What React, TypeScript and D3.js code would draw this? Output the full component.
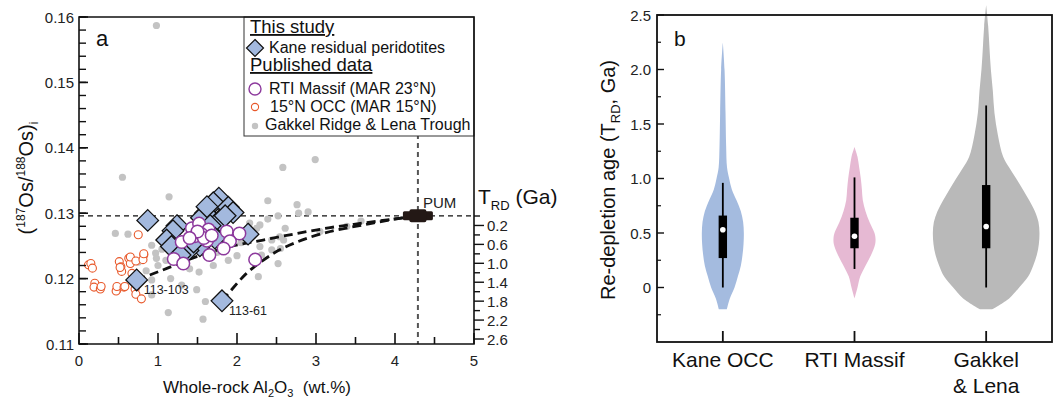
import React from 'react';
import * as d3 from 'd3';

// ---------- Panel a data ----------
const gakkelPts: [number, number][] = [
  [0.98, 0.1587], [0.55, 0.1355], [1.14, 0.1325], [2.58, 0.137], [2.99, 0.1382], [2.39, 0.1319],
  [0.46, 0.1269], [0.62, 0.1268], [2.76, 0.1313], [2.9, 0.1302], [2.39, 0.1291], [2.52, 0.1296],
  [2.25, 0.1277], [2.29, 0.1282], [2.16, 0.1285], [2.44, 0.1259], [2.29, 0.1249], [2.55, 0.1246],
  [2.61, 0.1277], [3.05, 0.1272], [2.54, 0.1264], [2.59, 0.1259], [2.44, 0.1244], [2.31, 0.1236],
  [2.52, 0.1223], [2.27, 0.1203], [3.39, 0.128], [3.57, 0.1288], [1.13, 0.1148], [1.57, 0.1138],
  [1.6, 0.1165], [1.49, 0.1183], [1.89, 0.1228], [1.52, 0.121], [0.92, 0.1198], [0.92, 0.1175],
  [0.92, 0.1251], [0.97, 0.1239], [0.98, 0.1231], [0.75, 0.1225], [1.16, 0.12], [1.05, 0.1245],
  [1.1, 0.1228], [1.4, 0.1215], [1.75, 0.124], [1.95, 0.1265], [2.05, 0.1255], [1.2, 0.1262],
  [0.85, 0.1212], [1.0, 0.122], [2.0, 0.1235], [2.78, 0.1300], [1.3, 0.119], [1.7, 0.122],
];
const occ15Pts: [number, number][] = [
  [0.12, 0.1221], [0.15, 0.1223], [0.17, 0.1216], [0.2, 0.1193], [0.19, 0.1187], [0.27, 0.1184],
  [0.28, 0.1188], [0.48, 0.1183], [0.47, 0.1181], [0.48, 0.1188], [0.57, 0.1187], [0.58, 0.1188],
  [0.51, 0.1226], [0.53, 0.1218], [0.54, 0.1211], [0.52, 0.1217], [0.63, 0.1231], [0.65, 0.1223],
  [0.65, 0.1233], [0.72, 0.1227], [0.82, 0.1236], [0.81, 0.1229], [0.82, 0.1238], [0.75, 0.1267],
  [0.67, 0.1208], [0.71, 0.1184], [0.72, 0.1176], [0.79, 0.1169],
];
const rtiPts: [number, number][] = [
  [1.43, 0.1277], [1.52, 0.1284], [1.64, 0.1275], [1.47, 0.1265], [1.62, 0.1258], [1.3, 0.1256],
  [1.87, 0.1272], [2.03, 0.1269], [1.91, 0.1257], [1.83, 0.1246], [1.65, 0.1236], [1.2, 0.123],
  [1.32, 0.1223], [2.23, 0.1229], [1.55, 0.1268], [1.58, 0.1262], [1.5, 0.1272], [1.68, 0.1266],
  [1.4, 0.1262],
];
const kanePts: [number, number][] = [
  [0.87, 0.1289], [0.73, 0.1198], [1.81, 0.1166], [1.77, 0.1323], [1.7, 0.1316], [1.89, 0.1309],
  [1.95, 0.1301], [1.6, 0.13], [1.55, 0.1293], [1.78, 0.1289], [1.66, 0.1281], [1.24, 0.1281],
  [1.19, 0.1273], [1.11, 0.1259], [1.17, 0.1249], [2.14, 0.1268], [1.53, 0.125], [1.38, 0.1243],
  [1.45, 0.1256], [1.72, 0.1262], [1.28, 0.1236], [1.62, 0.131], [1.85, 0.1296],
];
const meltCurveUpper: [number, number][] = [
  [0.73, 0.1198], [0.82, 0.1202], [1.12, 0.1216], [1.5, 0.1234], [1.91, 0.1249], [2.33, 0.1259],
  [2.76, 0.1269], [3.18, 0.1278], [3.6, 0.1285], [4.1, 0.1293], [4.29, 0.1296],
];
const meltCurveLower: [number, number][] = [
  [1.81, 0.1166], [1.91, 0.118], [2.12, 0.1208], [2.33, 0.1228], [2.54, 0.1244], [2.76, 0.1256],
  [3.18, 0.1272], [3.6, 0.1282], [4.1, 0.1293], [4.29, 0.1296],
];
const sampleLabels: { text: string; x: number; y: number }[] = [
  { text: '113-103', x: 0.73, y: 0.1198 },
  { text: '113-61', x: 1.81, y: 0.1166 },
];
const pumAl = 4.29;
const pumOs = 0.1296;
const xTicksA = [0, 1, 2, 3, 4, 5];
const yTicksA = [0.11, 0.12, 0.13, 0.14, 0.15, 0.16];
const trdTicks = d3.range(0, 2.61, 0.2).map((v) => +v.toFixed(1));
const trdLabels = [0.2, 0.6, 1.0, 1.4, 1.8, 2.2, 2.6];

// ---------- Panel b data ----------
const violinCats = ['Kane OCC', 'RTI Massif', 'Gakkel & Lena'];
const violinColors = ['#a4bbdf', '#e6b9d3', '#b9b9b9'];
// [age (Ga), relative density]
const kaneDensity: [number, number][] = [
  [-0.2, 4], [-0.1, 7], [0, 11.7], [0.1, 15], [0.2, 18], [0.3, 19.7], [0.4, 20.7], [0.5, 21],
  [0.6, 20.3], [0.7, 18], [0.8, 13.7], [0.9, 9], [1.0, 6.3], [1.1, 4.2], [1.3, 3.3], [1.6, 2.7],
  [2.0, 1.7], [2.25, 0],
];
const rtiDensity: [number, number][] = [
  [-0.1, 0], [0, 3], [0.1, 5.7], [0.2, 11], [0.3, 16.7], [0.4, 20.7], [0.45, 21], [0.5, 20],
  [0.6, 15], [0.7, 11], [0.8, 8.3], [0.9, 7.4], [1.0, 6.3], [1.1, 4.7], [1.2, 3], [1.29, 0],
];
const gakkelDensity: [number, number][] = [
  [-0.2, 6], [-0.1, 23], [0, 33], [0.1, 42], [0.2, 47], [0.3, 50.7], [0.4, 52.7], [0.5, 53.3],
  [0.6, 52.3], [0.7, 48.7], [0.8, 43], [0.9, 36.7], [1.0, 30], [1.1, 23], [1.2, 17], [1.4, 11.7],
  [1.6, 8.3], [1.8, 6.7], [2.0, 4.7], [2.2, 3.3], [2.4, 2], [2.59, 0],
];
const violinDensities = [kaneDensity, rtiDensity, gakkelDensity];
const q1s = [0.27, 0.36, 0.36];
const q3s = [0.66, 0.64, 0.94];
const whiskerLo = [0, 0.17, 0];
const whiskerHi = [0.96, 1.01, 1.67];
const medians = [0.53, 0.47, 0.56];
const yTicksB = [0, 0.5, 1.0, 1.5, 2.0, 2.5];
const yMinorB = [-0.25, 0.25, 0.75, 1.25, 1.75, 2.25];

const FONT = '"Liberation Sans", Arial, Helvetica, sans-serif';

export default function App() {
  // Panel a scales
  const x = d3.scaleLinear().domain([0, 5]).range([79, 474]);
  const y = d3.scaleLinear().domain([0.11, 0.16]).range([344, 17]);
  const trd = d3.scaleLinear().domain([0, 2.6]).range([216, 339]);
  const line = d3
    .line<[number, number]>()
    .x((d) => x(d[0]))
    .y((d) => y(d[1]))
    .curve(d3.curveMonotoneX);
  const yMinorA = d3.range(0.11, 0.1601, 0.002).map((v) => +v.toFixed(3));
  const xMinorA = [0.5, 1.5, 2.5, 3.5, 4.5];

  // Panel b scales
  const xb = d3.scalePoint<string>().domain(violinCats).range([657, 1052]).padding(0.5);
  const yb = d3.scaleLinear().domain([-0.5, 2.5]).range([342, 15]);
  const wScale = d3.scaleLinear().domain([0, 55]).range([0, 55]);

  const diamond = (cx: number, cy: number, r: number) =>
    `M${cx},${cy - r}L${cx + r},${cy}L${cx},${cy + r}L${cx - r},${cy}Z`;

  const px = x(pumAl);
  const py = y(pumOs);

  return (
    <svg
      width={1055}
      height={407}
      style={{ position: 'absolute', left: 0, top: 0, background: '#fff' }}
      fontFamily={FONT}
    >
      {/* ================= Panel a ================= */}
      <line x1={x(0)} x2={x(5)} y1={py} y2={py} stroke="#111" strokeWidth={1.2} strokeDasharray="5,4" />
      <line x1={px} x2={px} y1={y(0.16)} y2={y(0.11)} stroke="#555" strokeWidth={2} strokeDasharray="5,4" />

      {gakkelPts.map((d, i) => (
        <circle key={'g' + i} cx={x(d[0])} cy={y(d[1])} r={3.6} fill="#c3c3c3" />
      ))}
      {occ15Pts.map((d, i) => (
        <circle key={'o' + i} cx={x(d[0])} cy={y(d[1])} r={4} fill="#fff" stroke="#e8582a" strokeWidth={1.1} />
      ))}
      <path d={line(meltCurveUpper) || ''} fill="none" stroke="#111" strokeWidth={2.8} strokeDasharray="9,5" />
      <path d={line(meltCurveLower) || ''} fill="none" stroke="#111" strokeWidth={2.8} strokeDasharray="9,5" />
      {kanePts.map((d, i) => (
        <path key={'k' + i} d={diamond(x(d[0]), y(d[1]), 10.8)} fill="#a3b9de" stroke="#111" strokeWidth={1.3} />
      ))}
      {rtiPts.map((d, i) => (
        <circle key={'r' + i} cx={x(d[0])} cy={y(d[1])} r={6.3} fill="#fff" stroke="#8d3a9d" strokeWidth={1.5} />
      ))}

      {/* PUM */}
      <rect x={px - 15} y={py - 4.5} width={30} height={9} rx={1.5} fill="#231815" />
      <rect x={px - 8.5} y={py - 6.5} width={17} height={13} rx={2} fill="#231815" />
      <text x={px + 5} y={py - 8} fontSize={15} fill="#222">PUM</text>

      {sampleLabels.map((s, i) => (
        <text key={'sl' + i} x={x(s.x) + 7} y={y(s.y) + 14} fontSize={12.5} fill="#222">
          {s.text}
        </text>
      ))}

      {/* legend */}
      <rect x={244} y={17} width={230} height={119} fill="#fff" stroke="#333" strokeWidth={1} />
      <text x={250} y={33} fontSize={18.5} textDecoration="underline" fill="#111">This study</text>
      <path d={diamond(255, 48, 8.5)} fill="#a3b9de" stroke="#111" strokeWidth={1.2} />
      <text x={269} y={53} fontSize={16} fill="#111">Kane residual peridotites</text>
      <text x={250} y={71} fontSize={18.5} textDecoration="underline" fill="#111">Published data</text>
      <circle cx={255} cy={89} r={6} fill="#fff" stroke="#8d3a9d" strokeWidth={1.4} />
      <text x={269} y={94} fontSize={16} fill="#111">RTI Massif (MAR 23°N)</text>
      <circle cx={255} cy={107} r={3.6} fill="#fff" stroke="#e8582a" strokeWidth={1.1} />
      <text x={270} y={112} fontSize={16} fill="#111">15°N OCC (MAR 15°N)</text>
      <circle cx={255} cy={126} r={3.2} fill="#c3c3c3" />
      <text x={265} y={130} fontSize={16} fill="#111">Gakkel Ridge &amp; Lena Trough</text>

      {/* frame a */}
      <path
        d={`M${x(0)},${y(0.16)}H${x(5)}V${y(0.11)}H${x(0)}Z`}
        fill="none"
        stroke="#111"
        strokeWidth={1.6}
      />
      {yMinorA.map((v, i) => (
        <line key={'ym' + i} x1={x(0)} x2={x(0) + 7} y1={y(v)} y2={y(v)} stroke="#111" strokeWidth={1.4} />
      ))}
      {yTicksA.map((v, i) => (
        <g key={'yt' + i}>
          <line x1={x(0)} x2={x(0) + 9} y1={y(v)} y2={y(v)} stroke="#111" strokeWidth={1.6} />
          <text x={x(0) - 5} y={y(v)} fontSize={15} textAnchor="end" dominantBaseline="central" fill="#222">
            {v.toFixed(2)}
          </text>
        </g>
      ))}
      {xMinorA.map((v, i) => (
        <line key={'xm' + i} x1={x(v)} x2={x(v)} y1={y(0.11)} y2={y(0.11) - 7} stroke="#111" strokeWidth={1.6} />
      ))}
      {xTicksA.map((v, i) => (
        <g key={'xt' + i}>
          <line x1={x(v)} x2={x(v)} y1={y(0.11)} y2={y(0.11) - 11} stroke="#111" strokeWidth={1.6} />
          <text x={x(v)} y={366} fontSize={15} textAnchor="middle" fill="#222">{v}</text>
        </g>
      ))}
      {trdTicks.map((v, i) => {
        const labeled = trdLabels.some((l) => Math.abs(l - v) < 1e-6);
        return (
          <g key={'tr' + i}>
            <line x1={x(5)} x2={x(5) + (labeled ? 10 : 6)} y1={trd(v)} y2={trd(v)} stroke="#111" strokeWidth={1.4} />
            {labeled && (
              <text x={x(5) + 13} y={trd(v)} fontSize={15} dominantBaseline="central" fill="#222">
                {v.toFixed(1)}
              </text>
            )}
          </g>
        );
      })}
      <text x={478} y={204} fontSize={21} fill="#111">
        T<tspan fontSize={13} dy={6}>RD</tspan>
        <tspan dy={-6}> (Ga)</tspan>
      </text>

      <text x={96} y={46} fontSize={22} fill="#111">a</text>

      <text x={163} y={393} fontSize={17} fill="#111">
        Whole-rock Al<tspan fontSize={11} dy={4}>2</tspan>
        <tspan dy={-4}>O</tspan>
        <tspan fontSize={11} dy={4}>3</tspan>
        <tspan dy={-4}>{'\u00a0\u00a0(wt.%)'}</tspan>
      </text>
      <text transform="translate(33,178) rotate(-90)" fontSize={20} textAnchor="middle" fill="#111">
        (<tspan fontSize={12} dy={-8}>187</tspan>
        <tspan dy={8}>Os/</tspan>
        <tspan fontSize={12} dy={-8}>188</tspan>
        <tspan dy={8}>Os)</tspan>
        <tspan fontSize={12} dy={5}>i</tspan>
      </text>

      {/* ================= Panel b ================= */}
      {violinCats.map((c, i) => {
        const cx = xb(c) as number;
        const area = d3
          .area<[number, number]>()
          .y((d) => yb(d[0]))
          .x0((d) => cx - wScale(d[1]))
          .x1((d) => cx + wScale(d[1]))
          .curve(d3.curveCatmullRom);
        return (
          <g key={'v' + i}>
            <path d={area(violinDensities[i]) || ''} fill={violinColors[i]} stroke="none" />
            <line x1={cx} x2={cx} y1={yb(whiskerLo[i])} y2={yb(whiskerHi[i])} stroke="#000" strokeWidth={1.8} />
            <rect x={cx - 4.2} y={yb(q3s[i])} width={8.4} height={yb(q1s[i]) - yb(q3s[i])} fill="#000" />
            <circle cx={cx} cy={yb(medians[i])} r={2.8} fill="#fff" />
          </g>
        );
      })}

      <rect x={657} y={15} width={395} height={327} fill="none" stroke="#111" strokeWidth={1.8} />
      {yMinorB.map((v, i) => (
        <line key={'bm' + i} x1={657} x2={661} y1={yb(v)} y2={yb(v)} stroke="#111" strokeWidth={1.2} />
      ))}
      {yTicksB.map((v, i) => (
        <g key={'bt' + i}>
          <line x1={657} x2={664} y1={yb(v)} y2={yb(v)} stroke="#111" strokeWidth={1.4} />
          <text x={651} y={yb(v)} fontSize={15} textAnchor="end" dominantBaseline="central" fill="#222">
            {v === 0 ? '0' : v.toFixed(1)}
          </text>
        </g>
      ))}
      {violinCats.map((c, i) => {
        const cx = xb(c) as number;
        const parts = c === 'Gakkel & Lena' ? ['Gakkel', '& Lena'] : [c];
        return (
          <g key={'bx' + i}>
            <line x1={cx} x2={cx} y1={342} y2={331} stroke="#111" strokeWidth={1.8} />
            {parts.map((p, j) => (
              <text key={j} x={cx} y={367 + j * 26} fontSize={21} textAnchor="middle" fill="#111">
                {p}
              </text>
            ))}
          </g>
        );
      })}
      <text x={674} y={46} fontSize={21} fill="#111">b</text>
      <text transform="translate(615,180) rotate(-90)" fontSize={20} textAnchor="middle" fill="#111">
        Re-depletion age (T<tspan fontSize={13} dy={5}>RD</tspan>
        <tspan dy={-5}>, Ga)</tspan>
      </text>
    </svg>
  );
}
